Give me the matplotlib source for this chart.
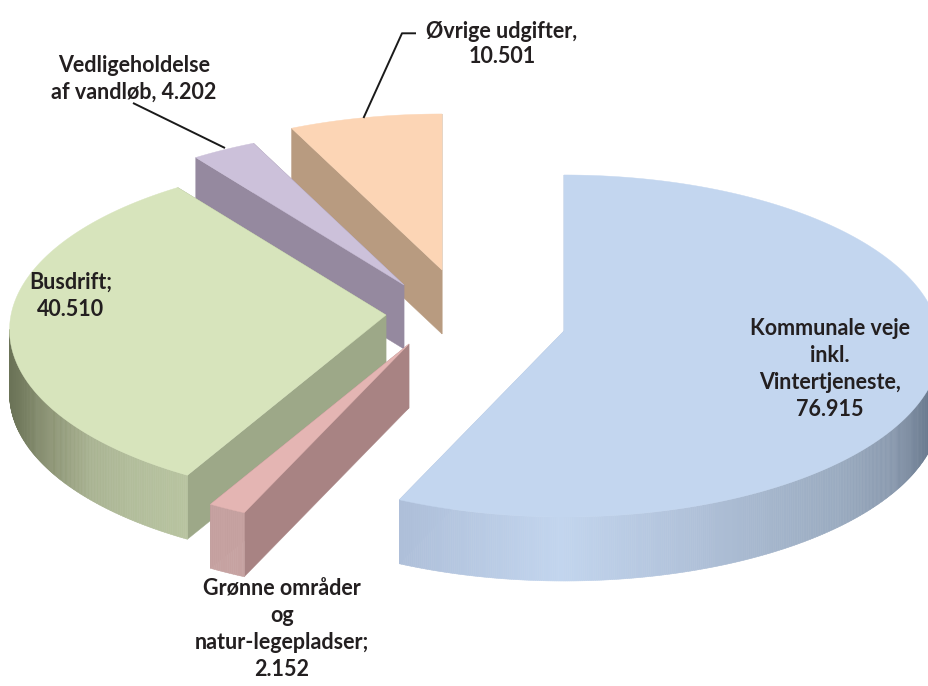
import numpy as np
import matplotlib
matplotlib.use("Agg")
import matplotlib.pyplot as plt
from matplotlib.collections import PolyCollection
from matplotlib.colors import LinearSegmentedColormap, to_rgb
from matplotlib.patches import Polygon

# ---- data (clockwise from 12 o'clock) ----
categories = ["Kommunale veje inkl. Vintertjeneste", "Grønne områder og natur-legepladser",
              "Busdrift", "Vedligeholdelse af vandløb", "Øvrige udgifter"]
values = [76.915, 2.152, 40.510, 4.202, 10.501]
value_text = ["76.915", "2.152", "40.510", "4.202", "10.501"]

# ---- style / layout ----
W, H = 929, 686
RX, RY, PERSP, WARP, DEPTH = 375.0, 169.7, 0.0876, 3.0, 64.0
origins = [(564, 331), (409, 344), (386, 315), (404, 285), (442, 270)]
top_col = ["#c3d6ef", "#e4b5b3", "#d7e4bc", "#ccc1da", "#fcd5b5"]
wall_col = ["#aebfd9", "#a88383", "#9da888", "#95899f", "#b89b80"]
rim_stops = [
    [(400, "#aebfd9"), (560, "#c2d5ee"), (700, "#afc0d8"), (840, "#9aabc0"), (890, "#8b9bb0"), (935, "#66768b")],
    [(205, "#c6a2a1"), (250, "#c6a2a1")],
    [(10, "#6b7357"), (50, "#8c9474"), (90, "#a9b392"), (130, "#b2bd9b"), (190, "#b8c4a0")],
    [(0, "#95899f"), (929, "#95899f")],
    [(0, "#b89b80"), (929, "#b89b80")],
]
draw_order = [4, 3, 2, 1, 0]
TXT = "#231f20"


def rim_points(start, end, origin, n=2):
    th = np.radians(np.linspace(start, end, n))
    tw = th - np.radians(WARP) * np.sin(2 * th)
    X, Y = np.sin(tw), np.cos(tw)
    d = 1 + PERSP * Y
    return origin[0] + RX * X / d, origin[1] - RY * Y / d, Y


fig = plt.figure(figsize=(W / 100, H / 100), dpi=100)
ax = fig.add_axes([0, 0, 1, 1])
ax.set_xlim(0, W)
ax.set_ylim(H, 0)
ax.axis("off")

total = sum(values)
edges = np.concatenate([[0], np.cumsum(values)]) / total * 360

for i in draw_order:
    a0, a1 = edges[i], edges[i + 1]
    o = origins[i]
    n = max(int((a1 - a0) * 3), 8)
    xs, ys, Y = rim_points(a0, a1, o, n)
    # radial cut walls
    for xe, ye in ((xs[0], ys[0]), (xs[-1], ys[-1])):
        ax.add_patch(Polygon([o, (xe, ye), (xe, ye + DEPTH), (o[0], o[1] + DEPTH)],
                             closed=True, fc=wall_col[i], ec=wall_col[i], lw=0.3, zorder=1))
    # gradient outer rim, front-facing part only
    stops = rim_stops[i]
    lo, hi = stops[0][0], stops[-1][0]
    cmap = LinearSegmentedColormap.from_list(
        "r", [((p - lo) / (hi - lo), c) for p, c in stops])
    quads, cols = [], []
    for j in range(n - 1):
        if Y[j] < -PERSP or Y[j + 1] < -PERSP:
            quads.append([(xs[j], ys[j]), (xs[j + 1], ys[j + 1]),
                          (xs[j + 1], ys[j + 1] + DEPTH), (xs[j], ys[j] + DEPTH)])
            cols.append(cmap((0.5 * (xs[j] + xs[j + 1]) - lo) / (hi - lo)))
    if quads:
        ax.add_collection(PolyCollection(quads, facecolors=cols, edgecolors=cols, linewidths=0.4, zorder=1))
    # top face
    ax.add_patch(Polygon(np.vstack([[o], np.column_stack([xs, ys])]), closed=True,
                         fc=top_col[i], ec=top_col[i], lw=0.3, zorder=1))
    ax.patches[-1].set_zorder(1)

# leader lines
ax.plot([416, 402, 363.5], [33.3, 33.3, 118], color="#1a1a1a", lw=1.4, zorder=2, solid_capstyle="butt")
ax.plot([133, 225], [103, 148], color="#1a1a1a", lw=1.4, zorder=2, solid_capstyle="butt")

font = dict(family="Lato", fontweight="bold", fontsize=15.5, color=TXT, ha="center", va="center", zorder=3)
ax.text(830, 369, "Kommunale veje\ninkl.\nVintertjeneste,\n" + value_text[0], linespacing=1.34, **font)
ax.text(282, 629, "Grønne områder\nog\nnatur-legepladser;\n" + value_text[1], linespacing=1.34, **font)
ax.text(71, 296, "Busdrift;\n" + value_text[2], linespacing=1.34, **font)
ax.text(134, 79, "Vedligeholdelse\naf vandløb, " + value_text[3], linespacing=1.34, **font)
ax.text(502, 44, "Øvrige udgifter,\n" + value_text[4], linespacing=1.22, **font)

fig.savefig("out.png", dpi=100, facecolor="white")
